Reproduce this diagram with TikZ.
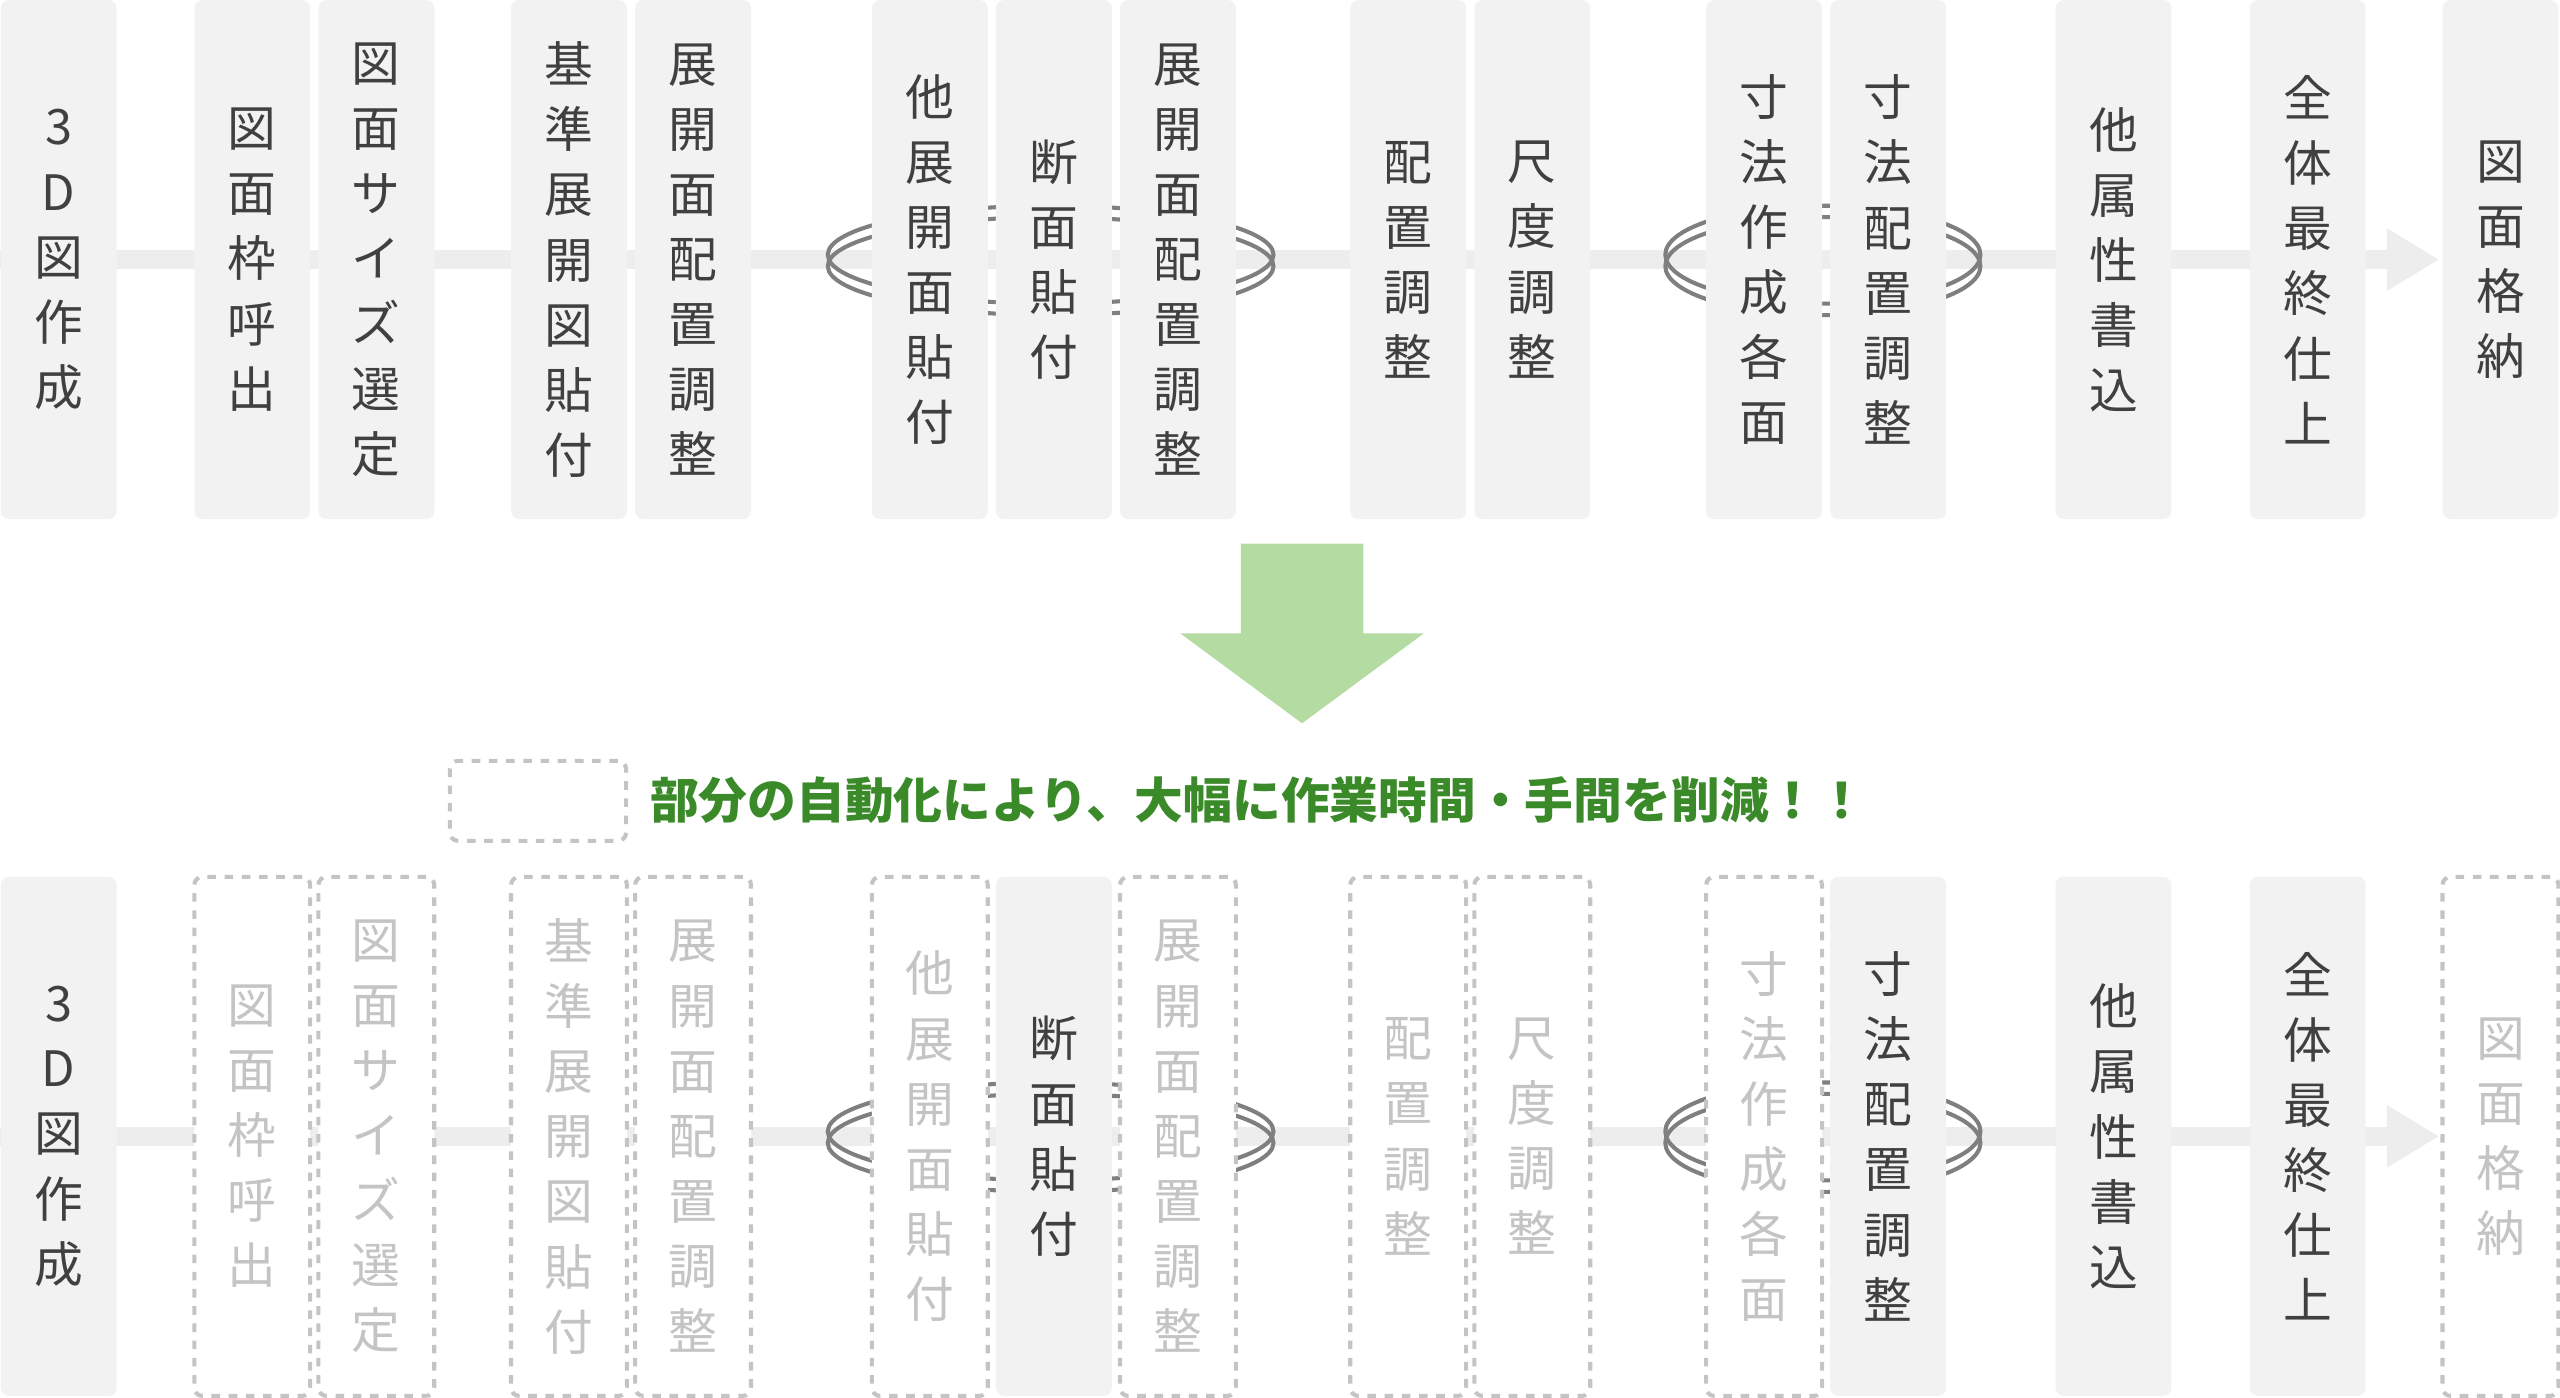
\documentclass[tikz,border=0pt]{standalone}
\usepackage{fontspec}
\setmainfont{Noto Sans CJK JP}
\usepackage{tikz}
\usetikzlibrary{arrows.meta}
\definecolor{boxfill}{HTML}{F2F2F2}
\definecolor{boxtext}{HTML}{404040}
\definecolor{fadetext}{HTML}{C4C4C4}
\definecolor{ringgray}{HTML}{7F7F7F}
\definecolor{flowgray}{HTML}{EDEDED}
\definecolor{arrowgreen}{HTML}{B4DCA2}
\definecolor{textgreen}{HTML}{3B8A2A}
\tikzset{
  procbox/.style = {shape=rectangle, rounded corners=0.1cm, fill=boxfill,
                    text=boxtext, align=center,
                    minimum width=1.42cm, minimum height=6.36cm,
                    font=\fontsize{17}{22.7}\selectfont},
  skipbox/.style = {procbox, fill=white, draw=fadetext, dashed,
                    line width=0.05cm, text=fadetext},
  ring/.style    = {draw=ringgray, line width=0.05cm}
}
\begin{document}
\begin{tikzpicture}[x=0.02cm, y=-0.02cm]
  \useasboundingbox (0,0) rectangle (1568,856);
  % flow lines and loops
  \foreach \y in {159, 696} {
    \draw [flowgray, line width=0.24cm, -{Triangle[length=0.64cm, width=0.72cm]}]
      (0,\y) -- (1494,\y);
    \draw [ring] (643.5,\y-3) ellipse [x radius=136.5, y radius=30];
    \draw [ring] (643.5,\y+4) ellipse [x radius=136.5, y radius=30];
    \draw [ring] (1116.5,\y-3) ellipse [x radius=96.5, y radius=30];
    \draw [ring] (1116.5,\y+4) ellipse [x radius=96.5, y radius=30];
  }
  % current steps
  \foreach \n/\x/\t in {1/36/{3\\D\\図\\作\\成}, 2/154.5/{図\\面\\枠\\呼\\出},
      3/230.5/{図\\面\\サ\\イ\\ズ\\選\\定}, 4/348.5/{基\\準\\展\\開\\図\\貼\\付},
      5/424.5/{展\\開\\面\\配\\置\\調\\整}, 6/569.5/{他\\展\\開\\面\\貼\\付},
      7/645.5/{断\\面\\貼\\付}, 8/721.5/{展\\開\\面\\配\\置\\調\\整},
      9/862.5/{配\\置\\調\\整}, 10/938.5/{尺\\度\\調\\整},
      11/1080.5/{寸\\法\\作\\成\\各\\面}, 12/1156.5/{寸\\法\\配\\置\\調\\整},
      13/1294.5/{他\\属\\性\\書\\込}, 14/1413.5/{全\\体\\最\\終\\仕\\上},
      15/1531.5/{図\\面\\格\\納}}
    \node [procbox] (t\n) at (\x,159) {\t};
  % automated steps
  \foreach \n/\x/\s/\t in {1/36/procbox/{3\\D\\図\\作\\成}, 2/154.5/skipbox/{図\\面\\枠\\呼\\出},
      3/230.5/skipbox/{図\\面\\サ\\イ\\ズ\\選\\定}, 4/348.5/skipbox/{基\\準\\展\\開\\図\\貼\\付},
      5/424.5/skipbox/{展\\開\\面\\配\\置\\調\\整}, 6/569.5/skipbox/{他\\展\\開\\面\\貼\\付},
      7/645.5/procbox/{断\\面\\貼\\付}, 8/721.5/skipbox/{展\\開\\面\\配\\置\\調\\整},
      9/862.5/skipbox/{配\\置\\調\\整}, 10/938.5/skipbox/{尺\\度\\調\\整},
      11/1080.5/skipbox/{寸\\法\\作\\成\\各\\面}, 12/1156.5/procbox/{寸\\法\\配\\置\\調\\整},
      13/1294.5/procbox/{他\\属\\性\\書\\込}, 14/1413.5/procbox/{全\\体\\最\\終\\仕\\上},
      15/1531.5/skipbox/{図\\面\\格\\納}}
    \node [\s] (b\n) at (\x,696) {\t};
  % big arrow
  \fill [arrowgreen] (760,333) -- (835,333) -- (835,388) -- (872,388)
    -- (797.5,443) -- (723,388) -- (760,388) -- cycle;
  % legend
  \node [skipbox, minimum width=2.16cm, minimum height=0.98cm] (key) at (329.5,490.5) {};
  \node [anchor=west, text=textgreen, font=\fontsize{17}{20}\selectfont\bfseries]
    (keytext) at (392,490) {部分の自動化により、大幅に作業時間・手間を削減！！};
\end{tikzpicture}
\end{document}
